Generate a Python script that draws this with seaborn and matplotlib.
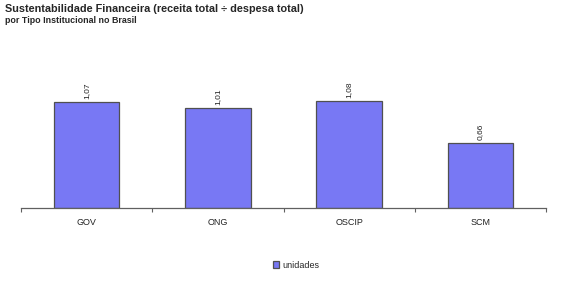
import matplotlib
matplotlib.use("Agg")
import matplotlib.pyplot as plt
import seaborn as sns
import pandas as pd
import numpy as np

categories = ["GOV", "ONG", "OSCIP", "SCM"]
values = [1.07, 1.01, 1.08, 0.66]
series_name = "unidades"
title = "Sustentabilidade Financeira (receita total ÷ despesa total)"
subtitle = "por Tipo Institucional no Brasil"

df = pd.DataFrame({"cat": categories, "val": values})

sns.set_style("white")
plt.rcParams["font.family"] = ["Liberation Sans", "DejaVu Sans"]

fig = plt.figure(figsize=(5.67, 2.95), dpi=100)
ax = fig.add_axes([21/567, 1-208/295, 525/567, 168/295])

sns.barplot(data=df, x="cat", y="val", color="#7878f4", width=0.5,
            edgecolor="#505050", linewidth=0.9, saturation=1,
            label=series_name, ax=ax, legend=False)
if ax.get_legend() is not None:
    ax.get_legend().remove()

ax.set_ylim(0, 1.70)
ax.set_xlim(-0.5, len(categories)-0.5)
ax.set_xlabel("")
ax.set_ylabel("")
ax.set_yticks([])
for s in ["top", "right", "left"]:
    ax.spines[s].set_visible(False)
ax.spines["bottom"].set_color("#606060")
ax.spines["bottom"].set_linewidth(0.9)

ax.set_xticks(range(len(categories)))
ax.set_xticklabels(categories, fontsize=6.5, color="#222222")
ax.tick_params(axis="x", which="major", length=0, pad=7)
ax.set_xticks(np.arange(-0.5, len(categories), 1.0), minor=True)
ax.tick_params(axis="x", which="minor", bottom=True, length=3, color="#606060",
               width=0.8, direction="out")

labels = [f"{v:.2f}".replace(".", ",") for v in values]
ax.bar_label(ax.containers[0], labels=labels, rotation=90, fontsize=6,
             padding=2, color="#222222")

fig.text(5/567, 1-4/295, title, fontsize=7.8, fontweight="bold", va="top", ha="left")
fig.text(5/567, 1-16/295, subtitle, fontsize=6.4, fontweight="bold", va="top", ha="left")

leg = fig.legend(handles=ax.containers[0].patches[:1], labels=[series_name],
                 loc="center", bbox_to_anchor=(296/567, 1-265/295), frameon=False,
                 fontsize=6.5, handlelength=0.7, handleheight=0.7, handletextpad=0.4)

fig.savefig("out.png", dpi=100)
